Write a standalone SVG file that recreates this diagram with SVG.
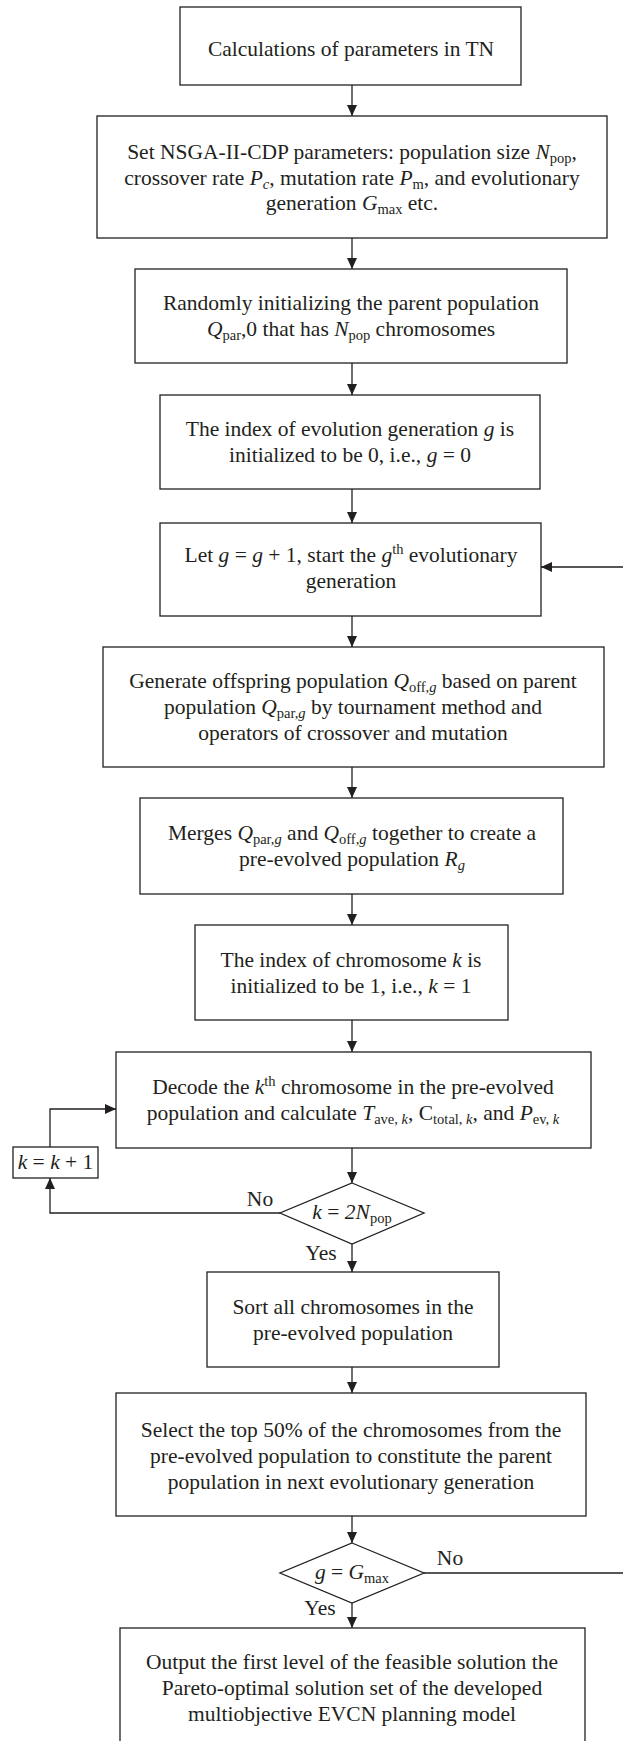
<svg xmlns="http://www.w3.org/2000/svg" width="623" height="1741" viewBox="0 0 623 1741">
<style>
.box{fill:#fff;stroke:#231f20;stroke-width:1.3}
.t{font-family:"Liberation Serif","Times New Roman",serif;font-size:21.5px;fill:#231f20;text-anchor:middle}
.i{font-style:italic}
.s{font-size:14.5px}
.c{fill:none;stroke:#231f20;stroke-width:1.3}
</style>
<defs>
<marker id="ah" markerUnits="userSpaceOnUse" markerWidth="12" markerHeight="10" refX="11" refY="5" orient="auto">
<path d="M0,0 L11,5 L0,10 z" fill="#231f20"/>
</marker>
</defs>
<rect width="623" height="1741" fill="#fff"/>
<g id="connectors">
<path class="c" d="M352,85 V116" marker-end="url(#ah)"/>
<path class="c" d="M352,238 V269" marker-end="url(#ah)"/>
<path class="c" d="M352,363 V395" marker-end="url(#ah)"/>
<path class="c" d="M352,489 V523" marker-end="url(#ah)"/>
<path class="c" d="M352,616 V647" marker-end="url(#ah)"/>
<path class="c" d="M352,767 V798" marker-end="url(#ah)"/>
<path class="c" d="M352,894 V925" marker-end="url(#ah)"/>
<path class="c" d="M352,1020 V1052" marker-end="url(#ah)"/>
<path class="c" d="M352,1148 V1183" marker-end="url(#ah)"/>
<path class="c" d="M352,1244 V1272" marker-end="url(#ah)"/>
<path class="c" d="M352,1367 V1393" marker-end="url(#ah)"/>
<path class="c" d="M352,1516 V1543" marker-end="url(#ah)"/>
<path class="c" d="M352,1603 V1628" marker-end="url(#ah)"/>
<path class="c" d="M280,1213 H50 V1178" marker-end="url(#ah)"/>
<path class="c" d="M50,1147 V1109 H116" marker-end="url(#ah)"/>
<path class="c" d="M424,1573 H625 V567 H541" marker-end="url(#ah)"/>
<text class="t" x="260" y="1206">No</text>
<text class="t" x="321" y="1260">Yes</text>
<text class="t" x="450" y="1565">No</text>
<text class="t" x="320" y="1615">Yes</text>
</g>
<g id="n1">
<rect class="box" x="180" y="7" width="341" height="78"/>
<text class="t" x="351" y="56">Calculations of parameters in TN</text>
</g>
<g id="n2">
<rect class="box" x="97" y="116" width="510" height="122"/>
<text class="t" x="352" y="159">Set NSGA-II-CDP parameters: population size <tspan class="i">N</tspan><tspan class="s" dy="4">pop</tspan><tspan dy="-4">,</tspan></text>
<text class="t" x="352" y="185">crossover rate <tspan class="i">P</tspan><tspan class="s i" dy="4">c</tspan><tspan dy="-4">, mutation rate </tspan><tspan class="i">P</tspan><tspan class="s" dy="4">m</tspan><tspan dy="-4">, and evolutionary</tspan></text>
<text class="t" x="352" y="210">generation <tspan class="i">G</tspan><tspan class="s" dy="4">max</tspan><tspan dy="-4"> etc.</tspan></text>
</g>
<g id="n3">
<rect class="box" x="135" y="269" width="432" height="94"/>
<text class="t" x="351" y="310">Randomly initializing the parent population</text>
<text class="t" x="351" y="336"><tspan class="i">Q</tspan><tspan class="s" dy="4">par</tspan><tspan dy="-4">,0 that has </tspan><tspan class="i">N</tspan><tspan class="s" dy="4">pop</tspan><tspan dy="-4"> chromosomes</tspan></text>
</g>
<g id="n4">
<rect class="box" x="160" y="395" width="380" height="94"/>
<text class="t" x="350" y="436">The index of evolution  generation <tspan class="i">g</tspan> is</text>
<text class="t" x="350" y="462">initialized to be 0, i.e., <tspan class="i">g</tspan> = 0</text>
</g>
<g id="n5">
<rect class="box" x="160" y="523" width="381" height="93"/>
<text class="t" x="351" y="562">Let <tspan class="i">g</tspan> = <tspan class="i">g</tspan> + 1, start the <tspan class="i">g</tspan><tspan class="s" dy="-8">th</tspan><tspan dy="8"> evolutionary</tspan></text>
<text class="t" x="351" y="588">generation</text>
</g>
<g id="n6">
<rect class="box" x="103" y="647" width="501" height="120"/>
<text class="t" x="353" y="688">Generate offspring population <tspan class="i">Q</tspan><tspan class="s" dy="4">off,</tspan><tspan class="s i">g</tspan><tspan dy="-4"> based on parent</tspan></text>
<text class="t" x="353" y="714">population <tspan class="i">Q</tspan><tspan class="s" dy="4">par,</tspan><tspan class="s i">g</tspan><tspan dy="-4"> by tournament method and</tspan></text>
<text class="t" x="353" y="740">operators of crossover and mutation</text>
</g>
<g id="n7">
<rect class="box" x="140" y="798" width="423" height="96"/>
<text class="t" x="352" y="840">Merges <tspan class="i">Q</tspan><tspan class="s" dy="4">par,</tspan><tspan class="s i">g</tspan><tspan dy="-4"> and </tspan><tspan class="i">Q</tspan><tspan class="s" dy="4">off,</tspan><tspan class="s i">g</tspan><tspan dy="-4"> together to create a</tspan></text>
<text class="t" x="352" y="866">pre-evolved population <tspan class="i">R</tspan><tspan class="s i" dy="4">g</tspan></text>
</g>
<g id="n8">
<rect class="box" x="195" y="925" width="313" height="95"/>
<text class="t" x="351" y="967">The index of chromosome <tspan class="i">k</tspan> is</text>
<text class="t" x="351" y="993">initialized to be 1, i.e., <tspan class="i">k</tspan> = 1</text>
</g>
<g id="n9">
<rect class="box" x="116" y="1052" width="475" height="96"/>
<text class="t" x="353" y="1094">Decode the <tspan class="i">k</tspan><tspan class="s" dy="-8">th</tspan><tspan dy="8"> chromosome in the pre-evolved</tspan></text>
<text class="t" x="353" y="1120">population and calculate <tspan class="i">T</tspan><tspan class="s" dy="4">ave, </tspan><tspan class="s i">k</tspan><tspan dy="-4">, C</tspan><tspan class="s" dy="4">total, </tspan><tspan class="s i">k</tspan><tspan dy="-4">, and </tspan><tspan class="i">P</tspan><tspan class="s" dy="4">ev, </tspan><tspan class="s i">k</tspan></text>
</g>
<g id="n10">
<rect class="box" x="13" y="1147" width="85" height="31"/>
<text class="t" x="55.5" y="1169"><tspan class="i">k</tspan> = <tspan class="i">k</tspan> + 1</text>
</g>
<g id="d1">
<path class="box" d="M352,1183 L424,1213 L352,1244 L280,1213 z"/>
<text class="t" x="352" y="1219"><tspan class="i">k</tspan> = <tspan class="i">2N</tspan><tspan class="s" dy="4">pop</tspan></text>
</g>
<g id="n11">
<rect class="box" x="207" y="1272" width="292" height="95"/>
<text class="t" x="353" y="1314">Sort all chromosomes in the</text>
<text class="t" x="353" y="1340">pre-evolved population</text>
</g>
<g id="n12">
<rect class="box" x="116" y="1393" width="470" height="123"/>
<text class="t" x="351" y="1437">Select the top 50% of the chromosomes from the</text>
<text class="t" x="351" y="1463">pre-evolved population to constitute the parent</text>
<text class="t" x="351" y="1489">population in next evolutionary generation</text>
</g>
<g id="d2">
<path class="box" d="M352,1543 L424,1573 L352,1603 L280,1573 z"/>
<text class="t" x="352" y="1579"><tspan class="i">g</tspan> = <tspan class="i">G</tspan><tspan class="s" dy="4">max</tspan></text>
</g>
<g id="n13">
<rect class="box" x="120" y="1628" width="465" height="130"/>
<text class="t" x="352" y="1669">Output the first level of the feasible solution the</text>
<text class="t" x="352" y="1695">Pareto-optimal solution set of the developed</text>
<text class="t" x="352" y="1721">multiobjective EVCN planning model</text>
</g>
</svg>
